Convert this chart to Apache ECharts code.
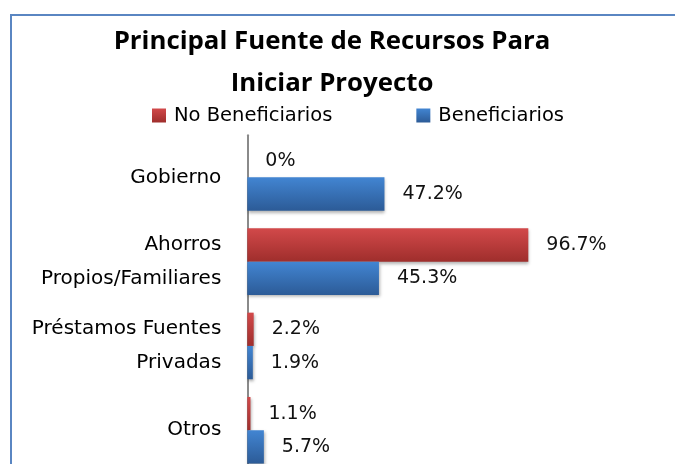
<!DOCTYPE html>
<html>
<head>
<meta charset="utf-8">
<script src="https://cdn.jsdelivr.net/npm/echarts@6/dist/echarts.min.js"></script>
<style>
  html, body { margin: 0; padding: 0; background: #fff; overflow: hidden; }
  body { width: 675px; height: 464px; position: relative; }
  #chart { position: absolute; left: 0; top: 0; width: 664px; height: 520px; }
  /* marco azul superior/izquierdo del gráfico original */
  .frame {
    position: absolute; left: 10px; top: 14px; right: -4px; bottom: -4px;
    border-top: 2px solid #5a86c2; border-left: 2px solid #5a86c2;
    pointer-events: none;
  }
</style>
</head>
<body>
<div id="chart"></div>
<div class="frame"></div>
<script>
const categories = ['Gobierno', 'Ahorros\nPropios/Familiares', 'Préstamos Fuentes\nPrivadas', 'Otros']
const noBeneficiarios = [0, 96.7, 2.2, 1.1]
const beneficiarios = [47.2, 45.3, 1.9, 5.7]

const chart = echarts.init(document.getElementById('chart'))

const redFill = new echarts.graphic.LinearGradient(0, 0, 0, 1, [
  { offset: 0, color: '#d2494a' },
  { offset: 1, color: '#9f2e2c' }
])
const blueFill = new echarts.graphic.LinearGradient(0, 0, 0, 1, [
  { offset: 0, color: '#4285d2' },
  { offset: 1, color: '#2c5b97' }
])

const labelStyle = {
  show: true,
  position: 'right',
  distance: 18,
  formatter: '{c}%',
  fontFamily: 'DejaVu Sans',
  fontSize: 19,
  color: '#111'
}

const barShadow = {
  shadowColor: 'rgba(0,0,0,0.3)',
  shadowBlur: 3,
  shadowOffsetX: 1,
  shadowOffsetY: 2
}

chart.setOption({
  animation: false,
  title: {
    text: 'Principal Fuente de Recursos Para\nIniciar Proyecto',
    left: 'center',
    top: 21,
    padding: 0,
    textStyle: {
      fontFamily: 'Open Sans',
      fontWeight: 'bold',
      fontSize: 25.8,
      lineHeight: 42,
      color: '#000'
    }
  },
  legend: {
    left: 152,
    top: 105.5,
    padding: 0,
    itemWidth: 14,
    itemHeight: 14,
    itemGap: 84,
    icon: 'rect',
    textStyle: {
      fontFamily: 'DejaVu Sans',
      fontSize: 19.5,
      lineHeight: 20,
      color: '#000',
      padding: [0, 0, 0, 3]
    },
    data: ['No Beneficiarios', 'Beneficiarios']
  },
  grid: {
    left: 247.3,
    top: 135.2,
    width: 290.6,
    height: 337.2
  },
  xAxis: {
    type: 'value',
    min: 0,
    max: 100,
    show: false
  },
  yAxis: {
    type: 'category',
    inverse: true,
    data: categories,
    axisTick: { show: false },
    axisLine: { show: true, lineStyle: { color: '#8a8a8a', width: 2 } },
    axisLabel: {
      margin: 26,
      fontFamily: 'DejaVu Sans',
      fontSize: 20,
      lineHeight: 34,
      color: '#000'
    }
  },
  series: [
    {
      name: 'No Beneficiarios',
      type: 'bar',
      data: noBeneficiarios,
      barGap: '0%',
      barCategoryGap: '21%',
      itemStyle: Object.assign({ color: redFill }, barShadow),
      label: labelStyle
    },
    {
      name: 'Beneficiarios',
      type: 'bar',
      data: beneficiarios,
      barGap: '0%',
      barCategoryGap: '21%',
      itemStyle: Object.assign({ color: blueFill }, barShadow),
      label: labelStyle
    }
  ]
})
</script>
</body>
</html>
